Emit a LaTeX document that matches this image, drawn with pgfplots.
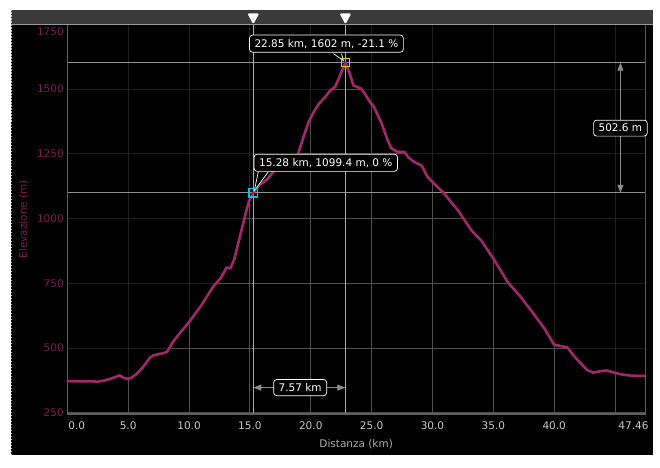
\documentclass[border=0pt]{standalone}
\usepackage{pgfplots}
\pgfplotsset{compat=1.18}
\usepgfplotslibrary{fillbetween}
\usetikzlibrary{arrows.meta}
\usepackage{fontspec}
\setmainfont{DejaVu Sans}

\definecolor{prof}{RGB}{162,40,108}
\definecolor{ylab}{RGB}{125,30,80}
\definecolor{xlab}{RGB}{200,200,200}
\definecolor{topbar}{RGB}{58,58,58}
\definecolor{gridc}{RGB}{78,78,78}
\definecolor{framec}{RGB}{95,95,95}
\definecolor{hilite}{RGB}{170,170,170}
\definecolor{arrowc}{RGB}{140,140,140}
\definecolor{mcyan}{RGB}{0,200,215}
\definecolor{myellow}{RGB}{205,215,0}

% elevation profile: distance (km), elevation (m)
\pgfplotstableread{
km elev
0 372
1 371
2 371
2.5 370
3 374
3.6 382
4.3 394
4.6 385
4.9 381
5.2 383
5.7 400
6.2 425
6.8 463
7.1 472
7.6 477
7.9 480
8.2 485
8.7 525
9.3 560
10 600
11 664
12 738
12.6 770
13.1 811
13.4 807
13.7 840
14.1 915
14.5 990
14.9 1065
15.28 1099.4
15.8 1130
16.4 1150
17.0 1185
17.5 1213
18.1 1232
18.6 1238
18.9 1240
19.3 1300
19.8 1370
20.25 1412
20.7 1445
21.2 1470
21.6 1495
22.0 1508
22.3 1540
22.6 1575
22.85 1602
23.2 1560
23.5 1514
24.1 1503
24.4 1485
24.8 1455
25.2 1430
25.8 1370
26.3 1305
26.6 1272
27.1 1258
27.7 1257
28.0 1237
28.5 1218
29.1 1205
29.6 1160
30.1 1136
30.9 1100
31.5 1065
32.1 1031
33.2 954
34.0 915
35.1 838
36.2 753
37.2 700
38.1 645
39.2 575
40.0 512
40.5 508
41.1 502
41.6 470
42.2 440
42.7 415
43.2 405
43.8 410
44.3 413
45.0 404
45.5 398
46.3 393
47.46 392
}\profile

\tikzset{
  callout/.style={draw=white, fill=black, text=white, rounded corners=3pt,
    line width=0.7pt, inner xsep=5pt, inner ysep=4pt,
    font=\fontsize{10.5}{12}\selectfont},
  meas/.style={arrowc, line width=0.8pt,
    {Triangle[length=8pt,width=6pt]}-{Triangle[length=8pt,width=6pt]}}
}

\begin{document}
\begin{tikzpicture}
\begin{axis}[
    at={(67.3pt,53pt)}, anchor=south west,
    scale only axis,
    width=577.7pt, height=389.7pt,
    xmin=0, xmax=47.46, ymin=245, ymax=1750,
    clip=false,
    set layers,
    axis line style={draw=framec, line width=1pt},
    major tick length=0pt,
    xmajorgrids, ymajorgrids,
    grid style={draw=gridc, line width=0.8pt},
    xtick={0,5,...,45},
    xticklabels={\hspace*{19pt}0.0,5.0,10.0,15.0,20.0,25.0,30.0,35.0,40.0,{}},
    extra x ticks={47.46},
    extra x tick labels={47.46\hspace*{23pt}},
    extra x tick style={xmajorgrids=false},
    ytick={250,500,750,1000,1250,1500},
    yticklabels={250,500,750,1000,1250,1500},
    extra y ticks={1750},
    extra y tick labels={1750},
    extra y tick style={ymajorgrids=false, yticklabel style={anchor=north east}},
    xticklabel style={text=xlab, font=\fontsize{10.5}{12}\selectfont, yshift=-4pt},
    yticklabel style={text=ylab, font=\fontsize{10.5}{12}\selectfont},
    xlabel={Distanza (km)},
    ylabel={Elevazione (m)},
    xlabel style={text=xlab!85!black, font=\fontsize{10.5}{12}\selectfont,
      at={(axis description cs:0.5,-0.077)}, anchor=center},
    ylabel style={text=ylab, font=\fontsize{10.5}{12}\selectfont,
      at={(axis description cs:-0.0758,0.5)}, anchor=center},
]

% page background, dark panel and top bar, behind the grid
\begin{pgfonlayer}{axis background}
\fill[white] ([xshift=-67.3pt,yshift=-53pt]rel axis cs:0,0) rectangle ++(660pt,467pt);
\fill[black] ([xshift=-56.3pt,yshift=-41pt]rel axis cs:0,0) rectangle ++(642pt,445pt);
\fill[topbar] ([xshift=-56.3pt,yshift=390pt]rel axis cs:0,0) rectangle ++(642pt,14pt);
\draw[white!75!black, line width=0.8pt, dash pattern=on 1.5pt off 1.5pt]
  ([xshift=-56.3pt,yshift=-41pt]rel axis cs:0,0) -- ++(0pt,445pt);
\end{pgfonlayer}

% dim the grid above the profile
\addplot[name path=prof, draw=none, forget plot] table[x=km, y=elev] {\profile};
\addplot[name path=topline, draw=none, forget plot] coordinates {(0,1750) (47.46,1750)};
\addplot[black, opacity=0.6, forget plot] fill between[of=prof and topline];

% highlight lines
\addplot[hilite!85!black, line width=0.8pt, forget plot] coordinates {(0,1602) (47.46,1602)};
\addplot[hilite!85!black, line width=0.8pt, forget plot] coordinates {(0,1099.4) (47.46,1099.4)};
\addplot[hilite, line width=0.8pt, forget plot] coordinates {(15.28,245) (15.28,1750)};
\addplot[hilite, line width=0.8pt, forget plot] coordinates {(22.85,245) (22.85,1750)};

% frame
\draw[framec, line width=1.5pt] (rel axis cs:0,0) -- (rel axis cs:0,1);
\draw[framec, line width=2.8pt] (rel axis cs:0,0) -- (rel axis cs:1,0);

% the profile
\addplot[prof, line width=2.6pt, line join=round] table[x=km, y=elev] {\profile};

% markers
\addplot[only marks, mark=square, mark size=4.2pt, mcyan, line width=1.2pt] coordinates {(15.28,1099.4)};
\addplot[only marks, mark=square, mark size=4.2pt, myellow, line width=1.2pt] coordinates {(22.85,1602)};

% measurements
\draw[meas] (axis cs:45.44,1602) -- (axis cs:45.44,1099.4);
\node[callout] at (axis cs:45.44,1349) {502.6 m};
\draw[meas] (axis cs:15.28,347) -- (axis cs:22.85,347);
\node[callout] at (axis cs:19.13,347) {7.57 km};

% callouts
\draw[white, fill=black, line width=0.7pt] ([xshift=-12pt,yshift=9pt]axis cs:22.85,1602) -- ([xshift=-2pt,yshift=2pt]axis cs:22.85,1602) -- ([xshift=-4pt,yshift=9pt]axis cs:22.85,1602);
\node[callout] at ([xshift=-19pt,yshift=19pt]axis cs:22.85,1602) {22.85 km, 1602 m, -21.1 \%};
\draw[white, fill=black, line width=0.7pt] ([xshift=5pt,yshift=21pt]axis cs:15.28,1099.4) -- ([xshift=1pt,yshift=2pt]axis cs:15.28,1099.4) -- ([xshift=15pt,yshift=21pt]axis cs:15.28,1099.4);
\node[callout] at ([xshift=72.5pt,yshift=30pt]axis cs:15.28,1099.4) {15.28 km, 1099.4 m, 0 \%};

% line under the top bar and position pins
\draw[white!60!black, line width=0.8pt] ([xshift=-56.3pt]rel axis cs:0,1) -- ++(642pt,0pt);
\fill[white, rounded corners=1.5pt] (axis cs:15.28,1750) -- ([xshift=-6pt,yshift=11pt]axis cs:15.28,1750) -- ([xshift=6pt,yshift=11pt]axis cs:15.28,1750) -- cycle;
\fill[white, rounded corners=1.5pt] (axis cs:22.85,1750) -- ([xshift=-6pt,yshift=11pt]axis cs:22.85,1750) -- ([xshift=6pt,yshift=11pt]axis cs:22.85,1750) -- cycle;
\end{axis}

\pgfresetboundingbox
\useasboundingbox (0pt,0pt) rectangle (660pt,467pt);
\end{tikzpicture}
\end{document}
